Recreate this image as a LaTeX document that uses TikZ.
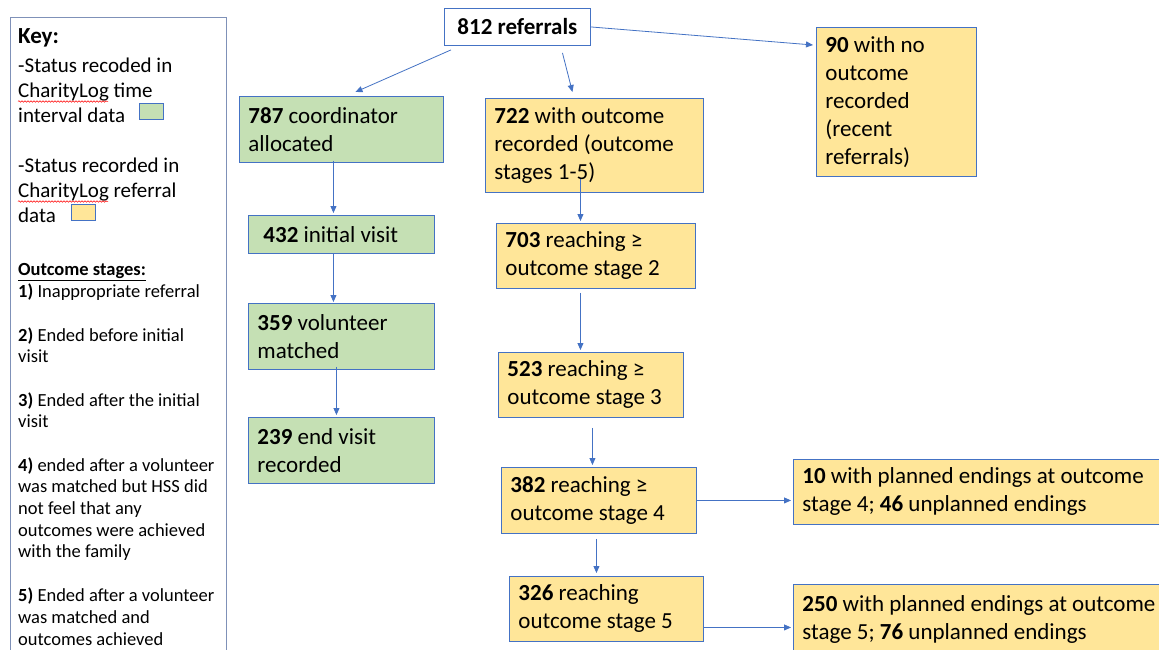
\documentclass[tikz,border=0pt]{standalone}
\usepackage{fontspec}
\setmainfont{Carlito}
\usetikzlibrary{positioning,arrows.meta,decorations.pathmorphing}

\definecolor{edgeblue}{HTML}{4472C4}
\definecolor{keyedge}{HTML}{7F91B8}
\definecolor{recgreen}{HTML}{C5E0B4}
\definecolor{recyellow}{HTML}{FFE699}

\newcommand\swatch[1]{\raisebox{3pt}{\setlength{\fboxsep}{0pt}\setlength{\fboxrule}{1pt}\fcolorbox{edgeblue}{#1}{\rule{0pt}{15pt}\rule{23pt}{0pt}}}}

\tikzset{
  statbox/.style={draw=edgeblue, line width=0.9pt, anchor=north west, align=flush left,
    inner xsep=9pt, inner ysep=2pt, font=\fontsize{23}{28}\selectfont},
  greenbox/.style={statbox, fill=recgreen},
  yellowbox/.style={statbox, fill=recyellow},
  arr/.style={draw=edgeblue, line width=0.8pt, -{Triangle[length=7pt,width=6pt]}},
  spellwave/.style={red, line width=0.5pt, decorate, decoration={snake, amplitude=0.8pt, segment length=3pt}}
}

\begin{document}
\begin{tikzpicture}[x=1pt,y=-1pt]
  \clip (0,0) rectangle (1159,650);
  \fill[white] (0,0) rectangle (1159,650);

  % key
  \node[draw=keyedge, line width=0.8pt, anchor=north west, minimum width=216pt, minimum height=650pt] (keyframe) at (10,17) {};
  \node[anchor=north west, inner sep=0pt, text width=205pt, align=flush left] (keytext) at (18,28) {%
    {\fontsize{23}{28}\selectfont\bfseries Key:\par}
    \vspace{4pt}
    {\fontsize{21}{25}\selectfont
     -Status recoded in\\ CharityLog time\\ interval data\hspace{14pt}\swatch{recgreen}\par
     \vspace{25.5pt}
     -Status recorded in\\ CharityLog referral\\ data\hspace{15pt}\swatch{recyellow}\par
     \vspace{31pt}}
    {\fontsize{18.5}{21.7}\selectfont
     \underline{\textbf{Outcome stages:}}\\
     \textbf{1)} Inappropriate referral\par\vspace{22.3pt}
     \textbf{2)} Ended before initial\\ visit\par\vspace{21.6pt}
     \textbf{3)} Ended after the initial\\ visit\par\vspace{21.6pt}
     \textbf{4)} ended after a volunteer\\ was matched but HSS did\\ not feel that any\\ outcomes were achieved\\ with the family\par\vspace{22.3pt}
     \textbf{5)} Ended after a volunteer\\ was matched and\\ outcomes achieved\par}};
  \draw[spellwave] (18,101.5) -- (108,101.5);
  \draw[spellwave] (18,201.5) -- (108,201.5);

  % top
  \node[statbox, fill=white, align=center, minimum width=146pt, minimum height=37pt] (ref) at (444,8) {\textbf{812} \textbf{referrals}};
  \node[yellowbox, text width=142pt, minimum height=149pt] (noout) at (816,27) {\textbf{90} with no\\ outcome\\ recorded\\ (recent\\ referrals)};

  % time interval data
  \node[greenbox, text width=186pt, minimum height=66pt] (alloc) at (239,96) {\textbf{787} coordinator\\ allocated};
  \node[greenbox, text width=168pt, minimum height=38pt] (visit) at (248,215) {\hspace{6pt}\textbf{432} initial visit};
  \node[greenbox, text width=168pt, minimum height=66pt] (match) at (248,303) {\textbf{359} volunteer\\ matched};
  \node[greenbox, text width=168pt, minimum height=66pt] (endv) at (248,417) {\textbf{239} end visit\\ recorded};

  % referral data
  \node[yellowbox, text width=200pt, minimum height=94pt] (outrec) at (485,98) {\textbf{722} with outcome\\ recorded (outcome\\ stages 1-5)};
  \node[yellowbox, text width=181pt, minimum height=65pt] (st2) at (496,223) {\textbf{703} reaching ≥\\ outcome stage 2};
  \node[yellowbox, text width=167pt, minimum height=65pt] (st3) at (498,352) {\textbf{523} reaching ≥\\ outcome stage 3};
  \node[yellowbox, text width=177pt, minimum height=66pt] (st4) at (501,467) {\textbf{382} reaching ≥\\ outcome stage 4};
  \node[yellowbox, text width=176pt, minimum height=65pt] (st5) at (509,576) {\textbf{326} reaching\\ outcome stage 5};
  \node[yellowbox, text width=400pt, minimum height=65pt] (end4) at (793,459) {\textbf{10} with planned endings at outcome\\ stage 4; \textbf{46} unplanned endings};
  \node[yellowbox, text width=400pt, minimum height=70pt] (end5) at (793,584) {\textbf{250} with planned endings at outcome\\ stage 5; \textbf{76} unplanned endings};

  % connectors
  \draw[arr] ([shift={(7,4)}]ref.south west) -- ([shift={(14,-4)}]alloc.north);
  \draw[arr] ([shift={(45,7)}]ref.south) -- ([shift={(-22,-6)}]outrec.north);
  \draw[arr] (ref.east) -- ([shift={(-3,18)}]noout.north west);
  \draw[arr] ([shift={(-8,-2)}]alloc.south) -- ([shift={(-8,-2)}]visit.north);
  \draw[arr] ([shift={(-8,0)}]visit.south) -- ([shift={(-8,-1)}]match.north);
  \draw[arr] ([shift={(-5,-3)}]match.south) -- ([shift={(-5,-2)}]endv.north);
  \draw[arr] ([shift={(-14,-14)}]outrec.south) -- ([shift={(-15.5,-2)}]st2.north);
  \draw[arr] ([shift={(-15.5,4)}]st2.south) -- ([shift={(-10.5,-2)}]st3.north);
  \draw[arr] ([shift={(1.5,10)}]st3.south) -- ([shift={(-6.5,-2)}]st4.north);
  \draw[arr] ([shift={(-2.5,5)}]st4.south) -- ([shift={(-10,-3)}]st5.north);
  \draw[arr, shorten >=2pt] (st4.east) -- (st4.east -| end4.west);
  \draw[arr, shorten >=2pt] ([shift={(0,18.5)}]st5.east) -- ([shift={(0,18.5)}]st5.east -| end5.west);
\end{tikzpicture}
\end{document}
